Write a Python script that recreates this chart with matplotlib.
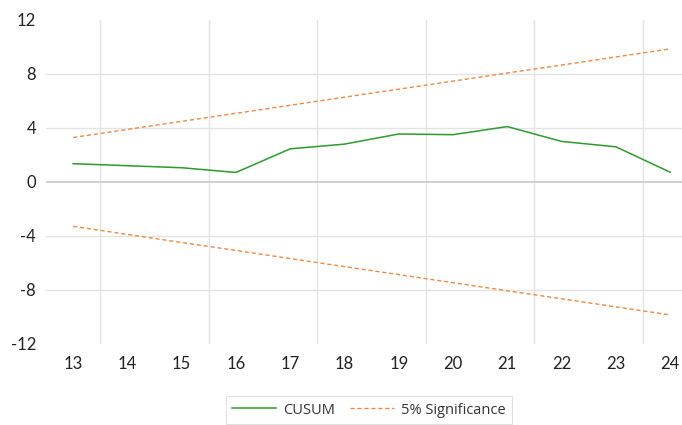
import matplotlib.pyplot as plt

# recursive CUSUM with 5% bounds
years = [13, 14, 15, 16, 17, 18, 19, 20, 21, 22, 23, 24]
cusum = [1.35, 1.2, 1.05, 0.7, 2.45, 2.8, 3.55, 3.5, 4.1, 3.0, 2.6, 0.72]
upper = [3.29, 3.89, 4.49, 5.08, 5.68, 6.28, 6.87, 7.47, 8.07, 8.66, 9.26, 9.86]
lower = [-3.29, -3.89, -4.49, -5.08, -5.68, -6.28, -6.87, -7.47, -8.07, -8.66, -9.26, -9.86]

fig = plt.figure(figsize=(6.82, 4.25), dpi=100)
ax = fig.add_axes([0.0674, 0.191, 0.955, 0.762])

green = '#2e9a2e'
orange = '#ee8a45'

ax.plot(years, cusum, color=green, lw=1.1, label='CUSUM', zorder=3)
ax.plot(years, upper, color=orange, lw=1.0, ls=(0, (3, 2)), label='5% Significance', zorder=3)
ax.plot(years, lower, color=orange, lw=1.0, ls=(0, (3, 2)), zorder=3)

ax.set_xlim(12.5, 24.5)
ax.set_ylim(-12, 12)
ax.set_xticks(years)
ax.set_yticks([-12, -8, -4, 0, 4, 8, 12])
ax.set_yticklabels(['-12', '-8', '-4', '0', '4', '8', '12'])

# gridlines every second category boundary, light horizontals
for xb in [13.5, 15.5, 17.5, 19.5, 21.5, 23.5]:
    ax.axvline(xb, color='#e3e3e3', lw=1.0, zorder=1)
for yv in [-8, -4, 4, 8]:
    ax.axhline(yv, color='#e3e3e3', lw=1.0, zorder=1)
ax.axhline(0, color='#c8c8c8', lw=1.2, zorder=2)

for s in ax.spines.values():
    s.set_visible(False)
ax.tick_params(length=0, labelsize=12, colors='#222222')
ax.tick_params(axis='x', pad=9)
ax.tick_params(axis='y', pad=7)
for lab in ax.get_xticklabels() + ax.get_yticklabels():
    lab.set_family('Lato')

leg = fig.legend(loc='center', bbox_to_anchor=(369 / 682, 1 - 410 / 425), ncol=2,
                 frameon=True, fancybox=False, edgecolor='#d9d9d9',
                 prop={'family': 'Open Sans', 'size': 10.5}, handlelength=3.0,
                 columnspacing=1.0, borderpad=0.45, handletextpad=0.5)
leg.get_frame().set_linewidth(0.8)
for t in leg.get_texts():
    t.set_color('#333333')

fig.savefig('out.png', dpi=100)
